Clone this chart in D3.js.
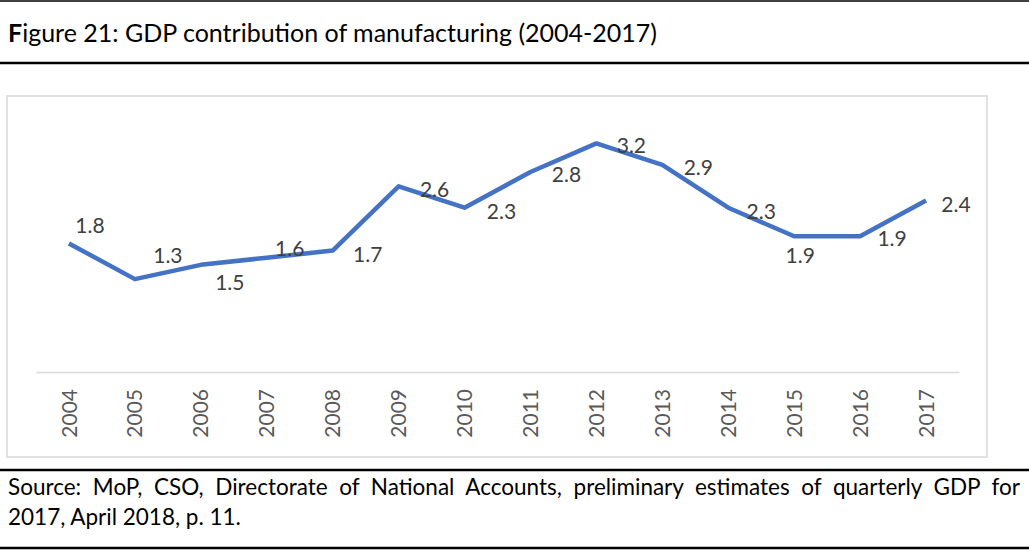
<!DOCTYPE html>
<html>
<head>
<meta charset="utf-8">
<script src="https://cdn.jsdelivr.net/npm/d3@7"></script>
<style>
  html, body { margin: 0; padding: 0; background: #fff; }
  svg { display: block; font-family: Lato, "Liberation Sans", sans-serif; }
</style>
</head>
<body>
<svg id="chart"></svg>
<script>
// Data
const years = ["2004","2005","2006","2007","2008","2009","2010","2011","2012","2013","2014","2015","2016","2017"];
const gdpShare = [1.8, 1.3, 1.5, 1.6, 1.7, 2.6, 2.3, 2.8, 3.2, 2.9, 2.3, 1.9, 1.9, 2.4];

// Texts
const titleBold = "F";
const titleRest = "igure 21: GDP contribution of manufacturing (2004-2017)";
const sourceLines = [
  "Source: MoP, CSO, Directorate of National Accounts, preliminary estimates of quarterly GDP for",
  "2017, April 2018, p. 11."
];

// Where Excel put each data label, relative to its point (dx, dy to baseline)
const labelOffsets = [
  [21, -10], [33, -16], [29, 25], [23, -2], [35, 11], [36, 11], [37, 11],
  [36, 10], [35, 10], [36, 10], [33, 11], [6, 27], [32, 10], [30, 11]
];

const W = 1029, H = 550;
const svg = d3.select("#chart").attr("width", W).attr("height", H);

// Frame lines of the document table
const rules = [[1, 1.5], [63, 2.5], [470, 2.5], [548, 2.5]];
svg.selectAll("line.rule").data(rules).enter()
  .append("line").attr("class", "rule")
  .attr("x1", 0).attr("x2", W)
  .attr("y1", d => d[0]).attr("y2", d => d[0])
  .attr("stroke", "#000").attr("stroke-width", d => d[1]);

// Title
const title = svg.append("text").attr("x", 8).attr("y", 42)
  .attr("font-size", 25).attr("fill", "#000");
title.append("tspan").attr("font-weight", "bold").text(titleBold);
title.append("tspan").text(titleRest);

// Chart box
svg.append("rect")
  .attr("x", 7).attr("y", 96).attr("width", 980).attr("height", 361)
  .attr("fill", "#fff").attr("stroke", "#d9d9d9").attr("stroke-width", 1.5);

// Scales
const x = d3.scaleBand().domain(years).range([36, 959]);
const y = d3.scaleLinear().domain([0, 3.5]).range([372, 122]);

// Category axis (line only, labels drawn rotated)
const xAxis = svg.append("g").attr("transform", `translate(0,${y(0)})`)
  .call(d3.axisBottom(x).tickSize(0).tickFormat(""));
xAxis.select(".domain").attr("stroke", "#d9d9d9").attr("stroke-width", 1.5);

svg.append("g").selectAll("text").data(years).enter()
  .append("text")
  .attr("transform", d => `translate(${x(d) + x.bandwidth() / 2},389) rotate(-90)`)
  .attr("text-anchor", "end")
  .attr("dy", "0.36em")
  .attr("font-size", 21)
  .attr("fill", "#595959")
  .text(d => d);

// Line
const pts = years.map((yr, i) => ({ yr, v: gdpShare[i], i }));
const line = d3.line()
  .x(d => x(d.yr) + x.bandwidth() / 2)
  .y(d => y(d.v));

svg.append("path")
  .datum(pts)
  .attr("d", line)
  .attr("fill", "none")
  .attr("stroke", "#4472c4")
  .attr("stroke-width", 4.5)
  .attr("stroke-linejoin", "round");

// Data labels
svg.append("g").selectAll("text").data(pts).enter()
  .append("text")
  .attr("x", d => x(d.yr) + x.bandwidth() / 2 + labelOffsets[d.i][0])
  .attr("y", d => y(d.v) + labelOffsets[d.i][1])
  .attr("text-anchor", "middle")
  .attr("font-size", 21)
  .attr("fill", "#404040")
  .text(d => d.v.toFixed(1));

// Source note, first line justified
const src = svg.append("g");
sourceLines.forEach((s, i) => {
  const t = src.append("text")
    .attr("x", 8).attr("y", 495 + i * 30)
    .attr("font-size", 22.5).attr("fill", "#000")
    .text(s);
  if (i === 0) {
    const w = t.node().getComputedTextLength();
    const gaps = s.split(" ").length - 1;
    t.attr("word-spacing", (1020 - 8 - w) / gaps);
  }
});
</script>
</body>
</html>
